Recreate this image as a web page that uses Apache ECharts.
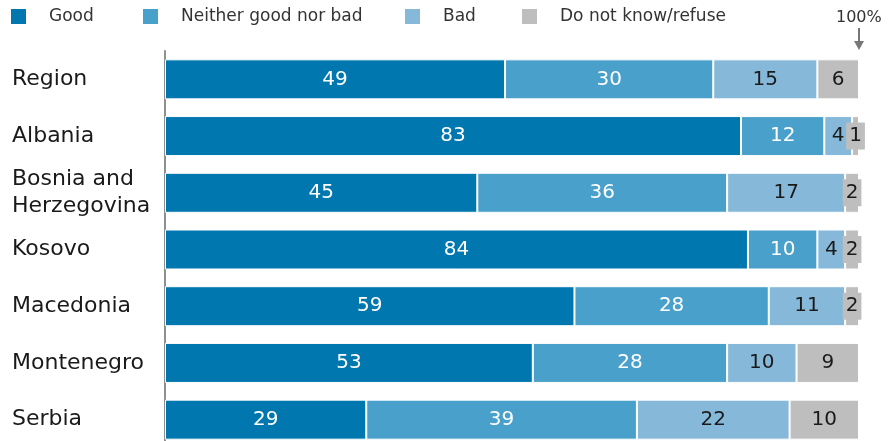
<!DOCTYPE html>
<html><head><meta charset="utf-8">
<script src="https://cdn.jsdelivr.net/npm/echarts@6/dist/echarts.min.js"></script>
<style>html,body{margin:0;padding:0;background:#fff}#c{width:892px;height:441px}</style>
</head><body><div id="c"></div>
<script>
const categories = ['Region','Albania','Bosnia and\nHerzegovina','Kosovo','Macedonia','Montenegro','Serbia'];
const seriesNames = ['Good','Neither good nor bad','Bad','Do not know/refuse'];
const good = [49,83,45,84,59,53,29];
const neither = [30,12,36,10,28,28,39];
const bad = [15,4,17,4,11,10,22];
const dk = [6,1,2,2,2,9,10];
const colors = ['#0077ae','#48a0cb','#86b8d9','#bebebf'];
const labelColors = ['#ffffff','#ffffff','#1a1a1a','#1a1a1a'];
const FONT = 'DejaVu Sans';

const chart = echarts.init(document.getElementById('c'));
const allData = [good, neither, bad, dk];
const series = allData.map((arr, i) => ({
  name: seriesNames[i],
  type: 'bar',
  stack: 'total',
  barWidth: 40,
  itemStyle: { color: colors[i], borderColor: '#ffffff', borderWidth: 1 },
  label: { show: true, position: 'inside', color: labelColors[i], fontSize: 20, fontFamily: FONT },
  data: arr.map(v => (i === 3 && v <= 2)
    ? { value: v, label: { backgroundColor: colors[3], padding: [4, 3, 3, 3] } }
    : v)
}));
const legendLefts = [6, 138, 400, 517];
const legends = seriesNames.map((n, i) => ({
  data: [n], left: legendLefts[i], top: 3, icon: 'rect', itemWidth: 15, itemHeight: 15,
  selectedMode: false,
  itemStyle: { borderWidth: 0 },
  textStyle: { fontSize: 17, color: '#333', fontFamily: FONT, padding: [0, 0, 0, 18] }
}));
chart.setOption({
  animation: false,
  color: colors,
  legend: legends,
  grid: { left: 165, right: 33, top: 51, bottom: -7, outerBoundsMode: 'none' },
  xAxis: { type: 'value', min: 0, max: 100, show: false },
  yAxis: {
    type: 'category', data: categories, inverse: true,
    axisLine: { lineStyle: { color: '#8f8f8f', width: 2 } },
    axisTick: { show: false },
    axisLabel: { align: 'left', margin: 153, fontSize: 22, color: '#1a1a1a', fontFamily: FONT, lineHeight: 27 }
  },
  series: series
});
const x100 = chart.convertToPixel({ xAxisIndex: 0 }, 100);
chart.setOption({
  graphic: [
    { type: 'text', left: x100 - 23, top: 10, style: { text: '100%', fill: '#333', font: '16px ' + FONT } },
    { type: 'line', shape: { x1: x100, y1: 28, x2: x100, y2: 42 }, style: { stroke: '#777', lineWidth: 2 } },
    { type: 'polygon', shape: { points: [[x100 - 5, 41], [x100 + 5, 41], [x100, 50]] }, style: { fill: '#777' } }
  ]
});
</script></body></html>
